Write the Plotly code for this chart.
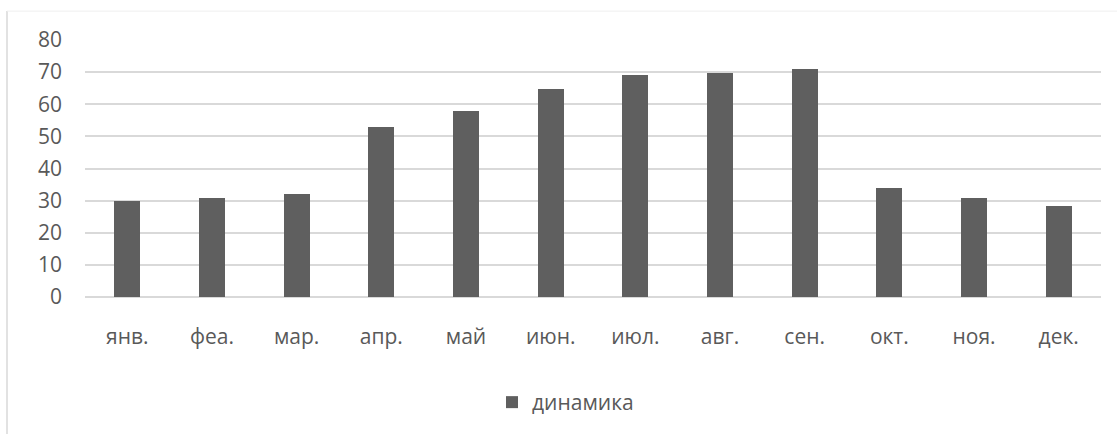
import plotly.graph_objects as go

months = ["янв.", "феа.", "мар.", "апр.", "май", "июн.", "июл.", "авг.", "сен.", "окт.", "ноя.", "дек."]
values = [30, 30.7, 32, 53, 58, 64.8, 69.2, 69.8, 71, 33.8, 30.7, 28.2]
series_name = "динамика"
y_ticks = [0, 10, 20, 30, 40, 50, 60, 70, 80]

W, H = 1117, 434
L, R, T, B = 85, 16, 40, 136

txt = "#595959"
font_family = "Open Sans, Noto Sans, Liberation Sans, sans-serif"
fs = 21

fig = go.Figure(
    go.Bar(
        x=months,
        y=values,
        name=series_name,
        marker=dict(color="#5f5f5f", line=dict(width=0)),
        width=0.31,
        showlegend=True,
    )
)

fig.update_layout(
    width=W,
    height=H,
    margin=dict(l=L, r=R, t=T, b=B, pad=0),
    paper_bgcolor="white",
    plot_bgcolor="white",
    font=dict(family=font_family, size=fs, color=txt),
    bargap=0,
    showlegend=True,
    legend=dict(
        orientation="h",
        x=0.4006,
        xanchor="left",
        y=-0.405,
        yanchor="middle",
        font=dict(family=font_family, size=fs, color=txt),
        bgcolor="rgba(0,0,0,0)",
    ),
    xaxis=dict(
        showgrid=False,
        showline=False,
        zeroline=False,
        ticks="",
        tickfont=dict(family=font_family, size=fs, color=txt),
        ticklabelstandoff=25,
    ),
    yaxis=dict(
        range=[0, 80],
        tickvals=y_ticks,
        showgrid=True,
        gridcolor="#d9d9d9",
        gridwidth=1.5,
        zeroline=True,
        zerolinecolor="#d9d9d9",
        zerolinewidth=1.5,
        showline=False,
        ticks="",
        tickfont=dict(family=font_family, size=fs, color=txt),
        ticklabelstandoff=22,
    ),
    shapes=[
        dict(type="line", xref="paper", yref="paper",
             x0=(7 - L) / (W - L - R), x1=(7 - L) / (W - L - R),
             y0=(H - B - 11) / (H - T - B), y1=(H - B - H - 5) / (H - T - B),
             line=dict(color="#d9d9d9", width=1.5)),
        dict(type="line", xref="paper", yref="paper",
             x0=(7 - L) / (W - L - R), x1=(W + 5 - L) / (W - L - R),
             y0=(H - B - 11) / (H - T - B), y1=(H - B - 11) / (H - T - B),
             line=dict(color="#efefef", width=1)),
    ],
)

fig.write_html("out.html")
